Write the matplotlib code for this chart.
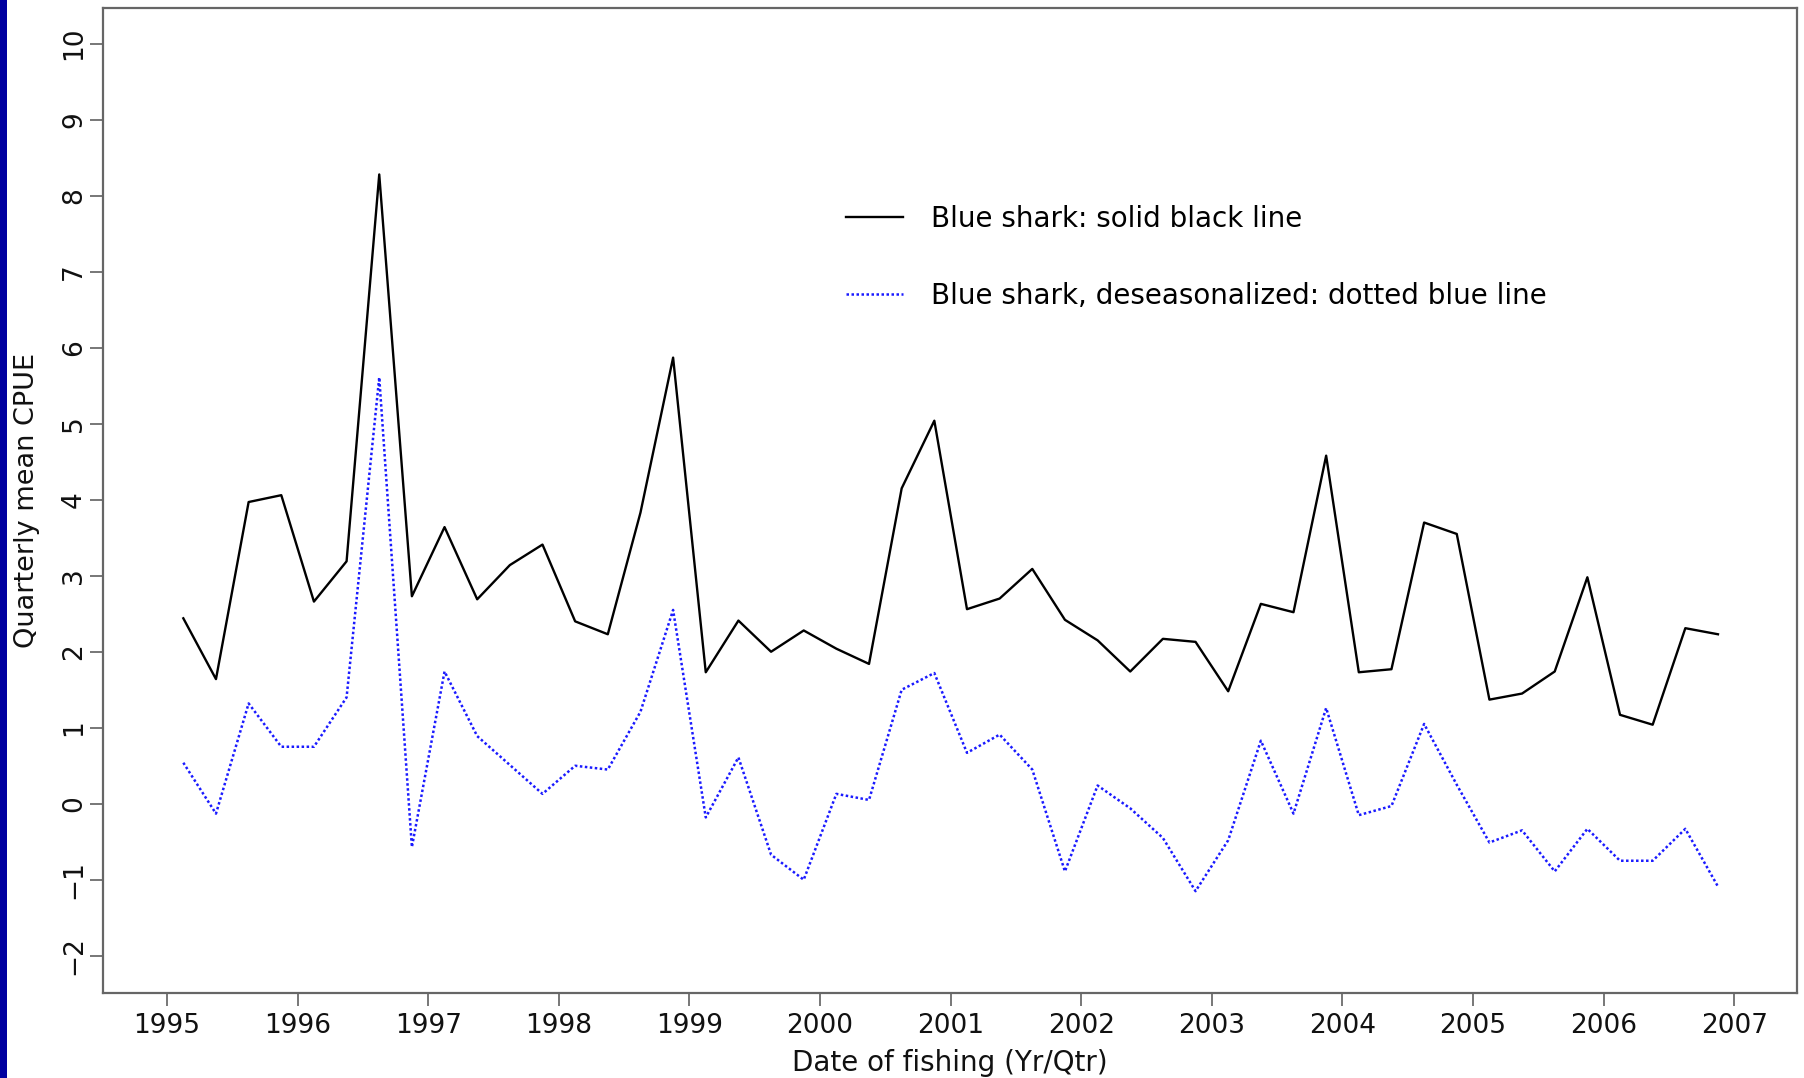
import matplotlib
matplotlib.use('Agg')
import matplotlib.pyplot as plt
from matplotlib.patches import Rectangle

plt.rcParams['font.family'] = ['DejaVu Sans']

# quarterly series, 1995 Q1 .. 2006 Q4
years = list(range(1995, 2007))
quarters = [1, 2, 3, 4]

cpue = [2.44, 1.64, 3.97, 4.06, 2.66, 3.19, 8.28, 2.73, 3.64, 2.69, 3.14, 3.41,
        2.40, 2.23, 3.83, 5.87, 1.73, 2.41, 2.00, 2.28, 2.04, 1.84, 4.15, 5.04,
        2.56, 2.70, 3.09, 2.42, 2.15, 1.74, 2.17, 2.13, 1.48, 2.63, 2.52, 4.58,
        1.73, 1.77, 3.70, 3.55, 1.37, 1.45, 1.74, 2.98, 1.17, 1.04, 2.31, 2.23]

cpue_deseason = [0.54, -0.13, 1.32, 0.75, 0.75, 1.40, 5.61, -0.57, 1.74, 0.89, 0.51, 0.13,
                 0.50, 0.45, 1.21, 2.55, -0.18, 0.61, -0.67, -1.00, 0.13, 0.05, 1.50, 1.72,
                 0.67, 0.91, 0.45, -0.89, 0.24, -0.06, -0.45, -1.15, -0.48, 0.83, -0.13, 1.26,
                 -0.15, -0.03, 1.05, 0.25, -0.51, -0.35, -0.89, -0.33, -0.75, -0.75, -0.33, -1.09]

x_ticks = list(range(1995, 2008))
y_ticks = list(range(-2, 11))

dates = [y + (q - 0.5) / 4 for y in years for q in quarters]

W, H = 1804, 1078
fig = plt.figure(figsize=(W / 100, H / 100), dpi=100)
fig.patch.set_facecolor('white')

# dark blue strip on the left edge
fig.patches.append(Rectangle((0, 0), 6.5 / W, 1, transform=fig.transFigure,
                             facecolor='#0000a0', edgecolor='none'))

ax = fig.add_axes([103 / W, 1 - 993 / H, (1797 - 103) / W, (993 - 8) / H])

ax.plot(dates, cpue, color='black', linewidth=1.7,
        label='Blue shark: solid black line')
ax.plot(dates, cpue_deseason, color='#1a1aff', linewidth=1.8, linestyle=(0, (1, 1)),
        label='Blue shark, deseasonalized: dotted blue line')

ax.set_xlim(1994.51, 2007.48)
ax.set_ylim(-2.49, 10.47)
ax.set_xticks(x_ticks)
ax.set_yticks(y_ticks)
ax.set_yticklabels([str(v).replace('-', '\u2212') for v in y_ticks])

for s in ax.spines.values():
    s.set_color('#666666')
    s.set_linewidth(1.6)

ax.tick_params(axis='both', direction='out', length=9.5, width=1.4, color='#777777',
               labelsize=19, labelcolor='#111111')
ax.tick_params(axis='x', pad=5)
ax.tick_params(axis='y', pad=2)
for lab in ax.get_yticklabels():
    lab.set_rotation(90)
    lab.set_va('center')

fig.text(950 / W, 1 - 1063 / H, 'Date of fishing (Yr/Qtr)', ha='center', va='center',
         fontsize=20, color='#111111')
fig.text(27 / W, 1 - 500 / H, 'Quarterly mean CPUE', ha='center', va='center',
         rotation=90, fontsize=19.5, color='#111111')

ax.legend(loc='upper left', bbox_to_anchor=(846 / W, 1 - 205 / H),
          bbox_transform=fig.transFigure, frameon=False, fontsize=20,
          handlelength=2.05, handletextpad=1.0, labelspacing=1.75,
          borderpad=0, borderaxespad=0)

fig.savefig('out.png', dpi=100)
